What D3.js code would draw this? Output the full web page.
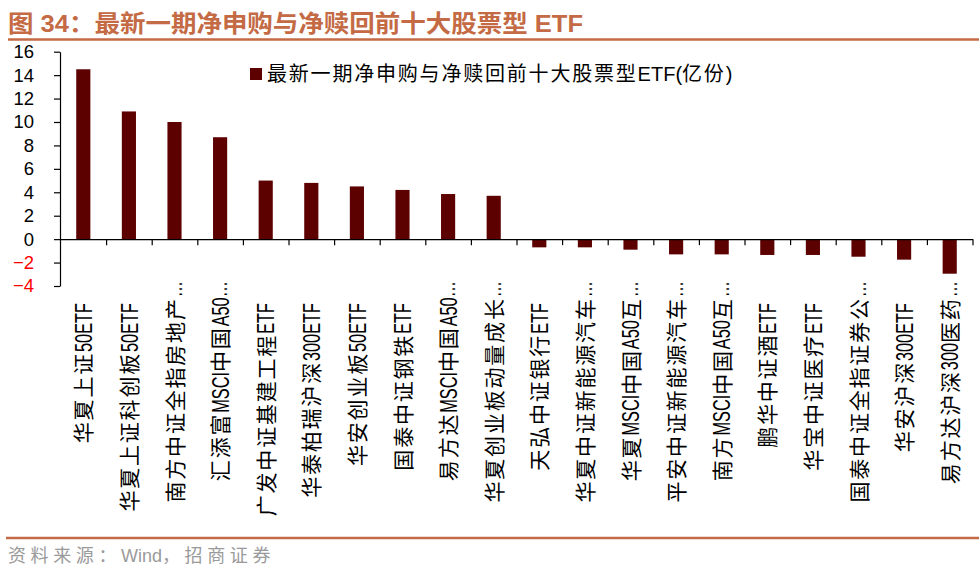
<!DOCTYPE html>
<html>
<head>
<meta charset="utf-8">
<script src="https://cdn.jsdelivr.net/npm/d3@7/dist/d3.min.js"></script>
<style>
  html, body { margin: 0; padding: 0; background: #fff; }
  svg { display: block; }
</style>
</head>
<body>
<svg id="chart" width="979" height="571"></svg>
<script>
const titleText = "图 34：最新一期净申购与净赎回前十大股票型 ETF";
const legendText = "最新一期净申购与净赎回前十大股票型ETF(亿份)";
const sourceText = "资料来源：Wind，招商证券";

const categories = [
  "华夏上证50ETF", "华夏上证科创板50ETF", "南方中证全指房地产…", "汇添富MSCI中国A50…",
  "广发中证基建工程ETF", "华泰柏瑞沪深300ETF", "华安创业板50ETF", "国泰中证钢铁ETF",
  "易方达MSCI中国A50…", "华夏创业板动量成长…", "天弘中证银行ETF", "华夏中证新能源汽车…",
  "华夏MSCI中国A50互…", "平安中证新能源汽车…", "南方MSCI中国A50互…", "鹏华中证酒ETF",
  "华宝中证医疗ETF", "国泰中证全指证券公…", "华安沪深300ETF", "易方达沪深300医药…"
];
const values = [14.5, 10.9, 10.0, 8.7, 5.0, 4.8, 4.5, 4.2, 3.85, 3.7,
                -0.7, -0.7, -0.9, -1.3, -1.3, -1.35, -1.35, -1.5, -1.75, -2.95];
const yTicks = [-4, -2, 0, 2, 4, 6, 8, 10, 12, 14, 16];

const svg = d3.select("#chart");
const accent = "#c46a44";
const barColor = "#5c0000";

function splitRuns(s) {
  const runs = [];
  for (const ch of s) {
    const type = ch === "…" ? "ell" : (/[\u3000-\u9fff\uff00-\uffef]/.test(ch) ? "cjk" : "lat");
    if (runs.length && runs[runs.length - 1].type === type) runs[runs.length - 1].text += ch;
    else runs.push({ type, text: ch });
  }
  return runs;
}
function mixedText(sel, str, size, cjkSpacing) {
  splitRuns(str).forEach(r => {
    const ts = sel.append("tspan").text(r.text).style("font-size", size + "px");
    if (r.type === "cjk") ts.style("font-family", "'Noto Sans CJK SC',sans-serif").style("letter-spacing", cjkSpacing + "px");
    else ts.style("font-family", "'Liberation Sans',Arial,sans-serif");
  });
  return sel;
}

// Title
svg.append("text")
  .attr("x", 8).attr("y", 32)
  .attr("textLength", 575).attr("lengthAdjust", "spacingAndGlyphs")
  .style("font-family", "'Liberation Sans','Noto Sans CJK SC',sans-serif")
  .style("font-weight", "bold").style("font-size", "24px")
  .attr("fill", accent).text(titleText);
svg.append("line").attr("x1", 8).attr("x2", 979).attr("y1", 39.5).attr("y2", 39.5)
  .attr("stroke", accent).attr("stroke-width", 2.5);

// Footer
svg.append("line").attr("x1", 6).attr("x2", 979).attr("y1", 538).attr("y2", 538)
  .attr("stroke", accent).attr("stroke-width", 2.5);
mixedText(svg.append("text").attr("x", 8).attr("y", 562).attr("fill", "#9a9a9a"), sourceText, 18, 4.6);

// Scales
const x = d3.scaleBand().domain(categories).range([60.5, 972.5])
  .paddingInner(0.69).paddingOuter(0.345);
const y = d3.scaleLinear().domain([-4, 16]).range([286, 51.7]);

// Bars
svg.append("g").selectAll("rect").data(values).join("rect")
  .attr("x", (d, i) => x(categories[i]))
  .attr("width", x.bandwidth())
  .attr("y", d => y(Math.max(0, d)))
  .attr("height", d => Math.abs(y(d) - y(0)))
  .attr("fill", barColor);

// Y axis
const yAxis = svg.append("g").attr("transform", "translate(60,0)")
  .call(d3.axisLeft(y).tickValues(yTicks).tickSize(6).tickSizeOuter(0).tickPadding(20));
yAxis.select(".domain").attr("stroke", "#000").attr("stroke-width", 1.2);
yAxis.selectAll(".tick line").attr("stroke", "#000").attr("stroke-width", 1.2);
yAxis.selectAll(".tick text")
  .style("font-family", "'Liberation Sans',Arial,sans-serif").style("font-size", "18.5px")
  .attr("fill", d => d < 0 ? "#ff0000" : "#000");

// X axis (category boundaries)
const xb = d3.scaleLinear().domain([0, categories.length]).range(x.range());
const xAxis = svg.append("g").attr("transform", `translate(0,${y(0)})`)
  .call(d3.axisBottom(xb).tickValues(d3.range(1, categories.length + 1))
    .tickSize(6).tickSizeOuter(0).tickFormat(""));
xAxis.select(".domain").attr("stroke", "#000").attr("stroke-width", 1.2);
xAxis.selectAll(".tick line").attr("stroke", "#000").attr("stroke-width", 1.2);

// Rotated category labels with mixed runs
const labelsG = svg.append("g");
categories.forEach((c, i) => {
  const cx = x(c) + x.bandwidth() / 2;
  const truncated = c.endsWith("…");
  const top = truncated ? 281 : 303;
  const g = labelsG.append("g").attr("transform", `translate(${cx},${top}) rotate(-90)`);
  const items = splitRuns(c).map(r => {
    const t = g.append("text").attr("text-anchor", "start").text(r.text);
    let s = 1;
    if (r.type === "cjk") {
      t.style("font-family", "'Noto Sans CJK SC',sans-serif").style("font-size", "21px")
        .style("letter-spacing", "1.8px").attr("y", 8);
    } else {
      s = 0.68;
      t.style("font-family", "'Liberation Sans',Arial,sans-serif").style("font-size", "24px")
        .attr("y", r.type === "ell" ? 7 : 8.6);
    }
    const len = t.node().getComputedTextLength() * s;
    return { t, s, len };
  });
  const total = d3.sum(items, d => d.len);
  let pos = -total;
  items.forEach(it => {
    it.t.attr("transform", `translate(${pos},0) scale(${it.s},1)`);
    pos += it.len;
  });
});

// Legend
svg.append("rect").attr("x", 250).attr("y", 68).attr("width", 12).attr("height", 12).attr("fill", barColor);
mixedText(svg.append("text").attr("x", 267).attr("y", 81).attr("fill", "#000"), legendText, 20, 1.8);
</script>
</body>
</html>
